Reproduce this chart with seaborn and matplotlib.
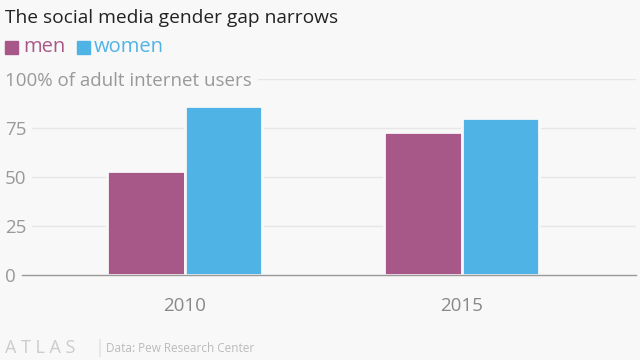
import matplotlib
matplotlib.use("Agg")
import matplotlib.pyplot as plt
from matplotlib.patches import Rectangle
import seaborn as sns
import pandas as pd

years = ["2010", "2015"]
men = [53, 73]
women = [86, 80]
series = ["men", "women"]
colors = {"men": "#a85888", "women": "#4fb3e6"}
yticks = [0, 25, 50, 75, 100]
ytick_labels = ["0", "25", "50", "75", "100% of adult internet users"]

df = pd.DataFrame({
    "year": years * 2,
    "value": men + women,
    "group": ["men"] * len(years) + ["women"] * len(years),
})

bg = "#f8f8f8"
sns.set_theme(style="white")
plt.rcParams["font.family"] = ["Open Sans", "DejaVu Sans"]

fig = plt.figure(figsize=(6.4, 3.6), dpi=100, facecolor=bg)
ax = fig.add_axes([22 / 640, 1 - 275 / 360, 614 / 640, 196 / 360])
ax.set_facecolor(bg)

sns.barplot(data=df, x="year", y="value", hue="group", palette=colors,
            width=0.56, edgecolor=bg, linewidth=2, ax=ax, legend=False,
            saturation=1, zorder=3)

ax.set_xlim(-0.588, 1.63)
ax.set_ylim(0, 100)
for s in ["top", "right", "left"]:
    ax.spines[s].set_visible(False)
ax.spines["bottom"].set_color("#999999")
ax.spines["bottom"].set_linewidth(1)
ax.spines["bottom"].set_zorder(4)

ax.set_yticks(yticks)
ax.set_yticklabels(ytick_labels)
ax.tick_params(axis="y", length=0, pad=12.2, labelsize=13.5, labelcolor="#999999")
for lab in ax.get_yticklabels():
    lab.set_horizontalalignment("left")
ax.tick_params(axis="x", length=6, width=0.8, color="#cccccc", pad=10,
               labelsize=13.5, labelcolor="#888888")

for v in yticks[1:4]:
    ax.axhline(v, xmin=10 / 614, xmax=1.0, color="#e6e6e6", linewidth=1, zorder=1)
ax.axhline(100, xmin=236 / 614, xmax=1.0, color="#e6e6e6", linewidth=1, zorder=1)

ax.set_xlabel("")
ax.set_ylabel("")

fig.text(5 / 640, 1 - 18 / 360, "The social media gender gap narrows",
         fontsize=13.8, color="#222222", va="center", ha="left")
# legend
fig.patches.append(Rectangle((5 / 640, 1 - 54 / 360), 13 / 640, 13 / 360,
                             transform=fig.transFigure, color=colors["men"]))
fig.text(23 / 640, 1 - 47 / 360, "men", fontsize=14.5, color=colors["men"], va="center", ha="left")
fig.patches.append(Rectangle((77 / 640, 1 - 54 / 360), 13 / 640, 13 / 360,
                             transform=fig.transFigure, color=colors["women"]))
fig.text(94 / 640, 1 - 47 / 360, "women", fontsize=14.5, color=colors["women"], va="center", ha="left")

# footer
fig.text(5 / 640, 1 - 348 / 360, "A T L A S", fontsize=13, color="#cccccc", va="center", ha="left")
fig.text(95 / 640, 1 - 348 / 360, "|", fontsize=13, color="#dddddd", va="center", ha="left")
fig.text(106 / 640, 1 - 348 / 360, "Data: Pew Research Center", fontsize=8.5, color="#bbbbbb",
         va="center", ha="left")

fig.savefig("out.png", dpi=100, facecolor=bg)
